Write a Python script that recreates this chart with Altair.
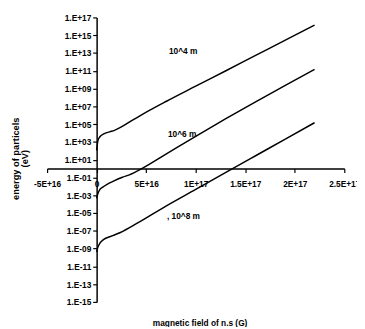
import json
import altair as alt
import pandas as pd

# ---- data ----
x_c1 = [0, 1.3e15, 3.3e15, 7.2e15, 1.3e16, 1.8e16, 3.8e16, 5.1e16, 7.0e16, 1.0e17, 1.3e17, 1.6e17, 1.9e17, 2.2e17]
y_c1 = [1.1e2, 1.4e3, 3.8e3, 8.1e3, 1.35e4, 2.0e4, 3.6e5, 2.5e6, 3.5e7, 1.85e9, 9.5e10, 5.0e12, 2.6e14, 1.4e16]

x_c2 = [0, 1.3e15, 3.3e15, 6.2e15, 1.1e16, 1.6e16, 2.6e16, 3.3e16, 4.6e16, 7.0e16, 1.0e17, 1.3e17, 1.6e17, 1.9e17, 2.2e17]
y_c2 = [4.6e-4, 1.6e-3, 4.5e-3, 8.3e-3, 1.8e-2, 3.4e-2, 1.05e-1, 1.95e-1, 1.05, 42, 4.3e3, 3.8e5, 3.0e7, 2.1e9, 1.45e11]

x_c3 = [0, 1.3e15, 3.3e15, 7.2e15, 1.4e16, 2.4e16, 4.1e16, 7.0e16, 1.0e17, 1.3e17, 1.6e17, 1.9e17, 2.2e17]
y_c3 = [4.1e-10, 1.45e-9, 4.0e-9, 1.1e-8, 2.3e-8, 6.5e-8, 7.1e-7, 6.0e-5, 4.5e-3, 3.5e-1, 2.6e1, 1.9e3, 1.45e5]

series_names = ["10^4 m", "10^6 m", "10^8 m"]

label_text = ["10^4 m", "10^6 m", ", 10^8 m"]
label_x = [7.3e16, 7.2e16, 7.1e16]
label_y = [1.8e13, 8.0e3, 4.8e-6]

x_ticks = [-5e16, 0, 5e16, 1e17, 1.5e17, 2e17, 2.5e17]
x_tick_labels = ["-5E+16", "0", "5E+16", "1E+17", "1.5E+17", "2E+17", "2.5E+17"]

y_ticks = [1e-15, 1e-13, 1e-11, 1e-9, 1e-7, 1e-5, 1e-3, 1e-1, 1e1, 1e3, 1e5, 1e7, 1e9, 1e11, 1e13, 1e15, 1e17]
y_tick_labels = ["1.E-15", "1.E-13", "1.E-11", "1.E-09", "1.E-07", "1.E-05", "1.E-03", "1.E-01",
                 "1.E+01", "1.E+03", "1.E+05", "1.E+07", "1.E+09", "1.E+11", "1.E+13", "1.E+15", "1.E+17"]

y_title = ["energy of particels", "\u00a0" * 18 + "(eV)"]
x_title = "magnetic field of n.s (G)"

# ---- build tables ----
rows = []
for name, xs, ys in zip(series_names, [x_c1, x_c2, x_c3], [y_c1, y_c2, y_c3]):
    for i, (xv, yv) in enumerate(zip(xs, ys)):
        rows.append({"series": name, "x": xv, "y": yv, "order": i})
df = pd.DataFrame(rows)
labels_df = pd.DataFrame({"text": label_text, "x": label_x, "y": label_y})

W, H = 304, 291
X_DOM = [-5e16, 2.5e17]
FONT = "Liberation Sans"
FS = 8.5

x_axis_offset = -(H - H * 17 / 32)        # put x axis line at y = 1
y_axis_offset = -(0 - X_DOM[0]) / (X_DOM[1] - X_DOM[0]) * W  # put y axis line at x = 0

x_label_expr = f"{json.dumps(x_tick_labels)}[indexof({json.dumps(x_ticks)}, datum.value)]"
y_label_expr = f"{json.dumps(y_tick_labels)}[indexof({json.dumps(y_ticks)}, datum.value)]"

x_enc = alt.X(
    "x:Q",
    scale=alt.Scale(domain=X_DOM, nice=False, zero=False),
    axis=alt.Axis(
        values=x_ticks, labelExpr=x_label_expr, offset=x_axis_offset,
        title=x_title, titleX=W / 2 + 4, titleY=H * 17 / 32 + 3,
        titleBaseline="middle", titleAlign="center", titleAngle=0,
        labelFlush=False, labelOverlap=False, labelPadding=7,
    ),
)
y_enc = alt.Y(
    "y:Q",
    scale=alt.Scale(type="log", domain=[1e-15, 1e17], nice=False),
    axis=alt.Axis(
        values=y_ticks, labelExpr=y_label_expr, offset=y_axis_offset,
        title=y_title, titleAngle=270, titleFontSize=9.5,
        titleX=-83, titleY=144, titleAlign="center", titleBaseline="middle",
        titleLineHeight=9.5, labelFlush=False, labelOverlap=False, labelPadding=2,
    ),
)

lines = alt.Chart(df).mark_line(color="black", strokeWidth=1.5, interpolate="monotone").encode(
    x=x_enc,
    y=y_enc,
    detail="series:N",
    order="order:Q",
)

texts = alt.Chart(labels_df).mark_text(
    align="left", baseline="middle", font=FONT, fontSize=FS, fontWeight="bold", color="black"
).encode(x="x:Q", y="y:Q", text="text:N")

chart = alt.layer(lines, texts).properties(
    width=W, height=H,
    autosize=alt.AutoSizeParams(type="none"),
    padding={"left": 40, "top": 6, "right": 13, "bottom": 22},
).configure_view(stroke=None).configure_axis(
    grid=False,
    domainColor="black", domainWidth=1.5,
    tickColor="black", tickSize=4, tickWidth=1.2,
    labelFont=FONT, labelFontSize=FS, labelFontWeight="bold", labelColor="black",
    titleFont=FONT, titleFontSize=FS, titleFontWeight="bold", titleColor="black",
)

chart.save("out.html", embed_options={"renderer": "svg", "actions": False})
